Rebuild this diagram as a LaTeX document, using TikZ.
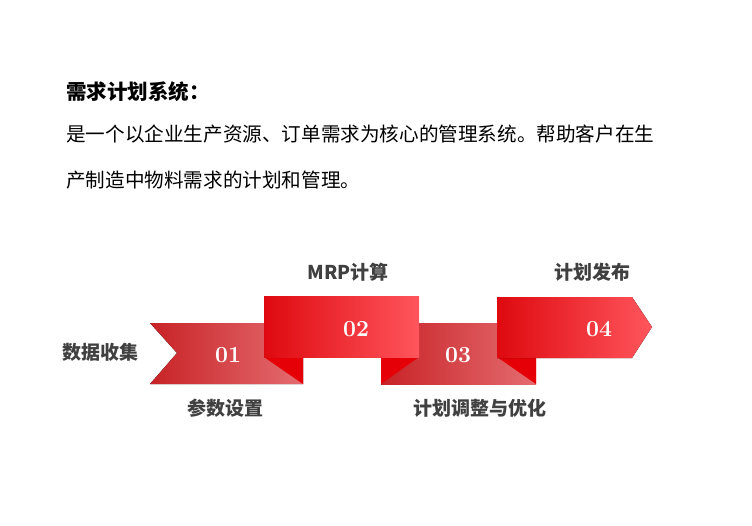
\documentclass[tikz,border=0pt]{standalone}
\usepackage{fontspec}
\setmainfont{Noto Sans CJK SC}
\newfontfamily\numfont{Latin Modern Roman}
\definecolor{bandL}{RGB}{200,35,38}
\definecolor{bandR}{RGB}{228,108,112}
\definecolor{boxL}{RGB}{222,10,16}
\definecolor{boxR}{RGB}{255,85,92}
\definecolor{foldred}{RGB}{228,0,6}
\definecolor{labelgray}{RGB}{64,64,64}
\tikzset{
  band/.style={left color=bandL,right color=bandR,draw=none},
  topbox/.style={left color=boxL,right color=boxR,draw=none},
  fold/.style={fill=foldred,draw=none},
  num/.style={text=white,font=\numfont\bfseries\fontsize{23}{23}\selectfont},
  steplabel/.style={text=labelgray,font=\bfseries\fontsize{19}{19}\selectfont}
}
\begin{document}
\begin{tikzpicture}[x=1pt,y=-1pt]
  \useasboundingbox (0,0) rectangle (752,525);

  % text block
  \node[anchor=west,inner sep=0pt,font=\bfseries\fontsize{20.5}{20.5}\selectfont] (title) at (66,92) {需求计划系统：};
  \node[anchor=west,inner sep=0pt,font=\fontsize{19.6}{19.6}\selectfont] (line1) at (66,134) {是一个以企业生产资源、订单需求为核心的管理系统。帮助客户在生};
  \node[anchor=west,inner sep=0pt,font=\fontsize{19.6}{19.6}\selectfont] (line2) at (66,180) {产制造中物料需求的计划和管理。};

  % ribbon
  \fill[band] (150,323) -- (303,323) -- (303,384) -- (150,384) -- (177,353) -- cycle;
  \fill[band] (381,323) -- (536,323) -- (536,384) -- (381,384) -- cycle;
  \fill[fold] (264,357) -- (303,357) -- (303,384) -- cycle;
  \fill[fold] (381,357) -- (419,357) -- (381,384) -- cycle;
  \fill[fold] (497,357) -- (536,357) -- (536,384) -- cycle;
  \fill[topbox] (264,296) rectangle (419,357);
  \fill[topbox] (497,297) -- (632,297) -- (652,327) -- (632,358) -- (497,358) -- cycle;

  \node[num] (n1) at (228,355) {01};
  \node[num] (n2) at (356,329) {02};
  \node[num] (n3) at (458,355) {03};
  \node[num] (n4) at (599,329) {04};

  \node[steplabel] (s1) at (100,352) {数据收集};
  \node[steplabel] (s2) at (225,408) {参数设置};
  \node[steplabel] (s3) at (348,272) {MRP计算};
  \node[steplabel] (s4) at (480,408) {计划调整与优化};
  \node[steplabel] (s5) at (592,272) {计划发布};
\end{tikzpicture}
\end{document}
